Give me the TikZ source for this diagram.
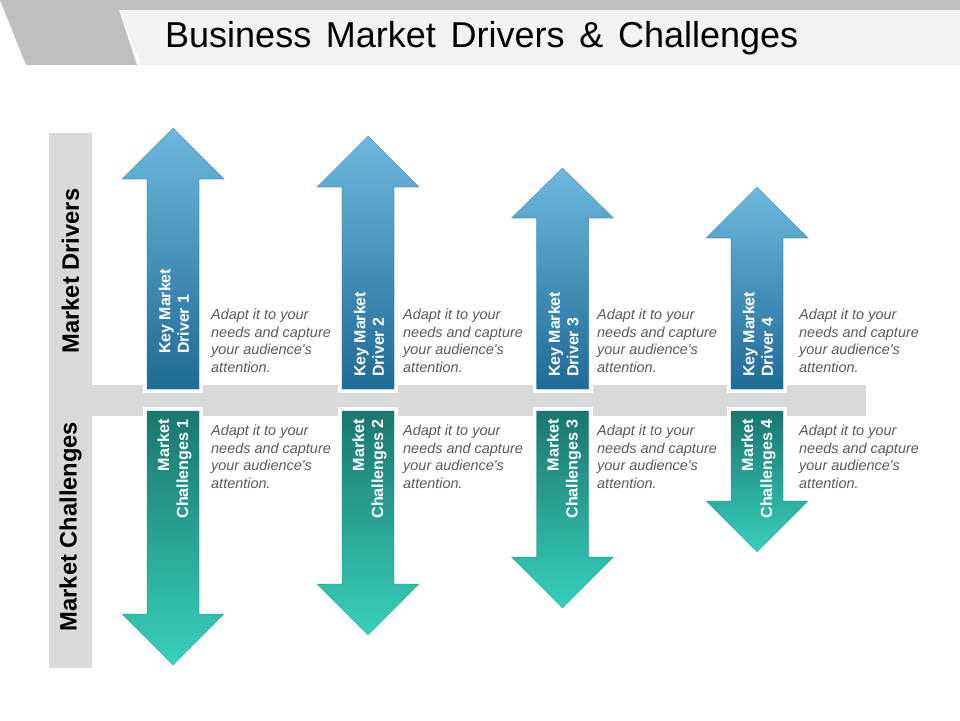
\documentclass[tikz,border=0pt]{standalone}
\usepackage{fontspec}
\setmainfont[Ligatures=TeXOff]{Liberation Sans}
\definecolor{bandgray}{HTML}{BFBFBF}
\definecolor{titlebg}{HTML}{F2F2F2}
\definecolor{axisgray}{HTML}{D9D9D9}
\definecolor{notegray}{HTML}{595959}
\definecolor{upT}{HTML}{6DB8DC}
\definecolor{upB}{HTML}{1F6B97}
\definecolor{dnT}{HTML}{1B776D}
\definecolor{dnB}{HTML}{37D0BB}
\tikzset{
  titlelabel/.style={font=\fontsize{36}{36}\selectfont,text=black,anchor=base west,inner sep=0pt},
  sidelabel/.style={font=\fontsize{23.7}{24}\selectfont\bfseries,text=black,rotate=90,inner sep=0pt},
  arrowlabelup/.style={font=\fontsize{15.9}{18.5}\selectfont\bfseries,text=white,rotate=90,align=left,inner sep=0pt,anchor=west},
  arrowlabeldn/.style={font=\fontsize{16.1}{18.8}\selectfont\bfseries,text=white,rotate=90,align=right,inner sep=0pt,anchor=east},
  notelabel/.style={font=\fontsize{14.45}{17.6}\selectfont\itshape,text=notegray,align=left,inner sep=0pt,anchor=north west},
  upshade/.style={top color=upT,bottom color=upB,draw=upB,draw opacity=.45,line width=.6pt},
  dnshade/.style={top color=dnT,bottom color=dnB,draw=dnT,draw opacity=.35,line width=.6pt}
}
\begin{document}
\begin{tikzpicture}[x=1pt,y=-1pt]
\useasboundingbox (0,0) rectangle (960,720);
% header
\fill[bandgray] (0,0) -- (960,0) -- (960,10) -- (119,10) -- (137,65) -- (26,65) -- cycle;
\fill[titlebg] (119.5,10.5) -- (960,10.5) -- (960,65) -- (141,65) -- cycle;
\node[titlelabel] (title) at (165,47.5) {\spaceskip=14.7pt\relax Business Market Drivers \& Challenges};
% axis
\fill[axisgray] (49,133) rectangle (92,668);
\fill[axisgray] (92,385) rectangle (866,416);
\node[sidelabel] (drivers) at (70.5,271) {Market Drivers};
\node[sidelabel] (challenges) at (70.5,526.5) {Market Challenges};
\foreach \n/\c/\ut/\ub/\db/\dt/\ly/\kx/\nx in {
  1/173/128/179/614/665/354/211/1,
  2/368/136/187/584/635/377/403/2,
  3/562.5/168/218/557/608/377/597/3,
  4/757/187/238/501/552/377/799/4}{
  \fill[white] (\c-30,380) rectangle (\c+30,393);
  \fill[white] (\c-30,407) rectangle (\c+30,420);
  \shade[upshade] (\c,\ut) -- (\c+51,\ub) -- (\c+26,\ub) -- (\c+26,389) -- (\c-26,389) -- (\c-26,\ub) -- (\c-51,\ub) -- cycle;
  \shade[dnshade] (\c-26,411) -- (\c+26,411) -- (\c+26,\db) -- (\c+51,\db) -- (\c,\dt) -- (\c-51,\db) -- (\c-26,\db) -- cycle;
  \node[arrowlabelup] (up\n) at (\c+1,\ly) {Key Market\\Driver \nx};
  \node[arrowlabeldn] (dn\n) at (\c+1.5,419) {Market\\Challenges \nx};
  \node[notelabel] (noteup\n) at (\kx,309) {Adapt it to your\\needs and capture\\your audience's\\attention.};
  \node[notelabel] (notedn\n) at (\kx,425) {Adapt it to your\\needs and capture\\your audience's\\attention.};
}
\end{tikzpicture}
\end{document}
